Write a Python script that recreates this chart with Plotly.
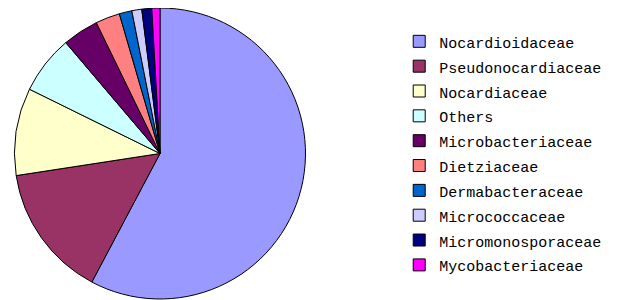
import plotly.graph_objects as go

labels = ["Nocardioidaceae", "Pseudonocardiaceae", "Nocardiaceae", "Others",
          "Microbacteriaceae", "Dietziaceae", "Dermabacteraceae", "Micrococcaceae",
          "Micromonosporaceae", "Mycobacteriaceae"]
values = [57.7, 14.8, 9.7, 6.5, 4.0, 2.7, 1.4, 1.1, 1.1, 0.9]
colors = ["#9999FF", "#993366", "#FFFFCC", "#CCFFFF", "#660066",
          "#FF8080", "#0066CC", "#CCCCFF", "#000080", "#FF00FF"]

display_labels = [f"<span style='font-size:15px'>{l}</span>" for l in labels]

fig = go.Figure(go.Pie(
    labels=display_labels, values=values, sort=False, direction="clockwise", rotation=0,
    marker=dict(colors=colors, line=dict(color="black", width=1)),
    textinfo="none", hoverinfo="label+percent",
    domain=dict(x=[0.009, 0.472], y=[0.03, 1.0]),
))
fig.update_layout(
    width=632, height=300, margin=dict(l=0, r=0, t=0, b=0),
    paper_bgcolor="white", plot_bgcolor="white",
    legend=dict(x=0.619, y=0.947, xanchor="left", yanchor="top",
                font=dict(family="Liberation Mono", size=16.8, color="black"),
                bgcolor="rgba(0,0,0,0)", itemwidth=30),
    showlegend=True,
)
fig.write_html("out.html")
